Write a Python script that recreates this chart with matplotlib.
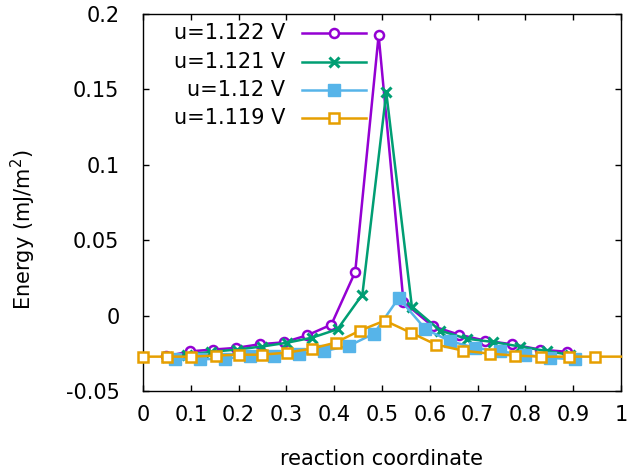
import matplotlib
matplotlib.use("Agg")
import matplotlib.pyplot as plt
from matplotlib.ticker import FuncFormatter

plt.rcParams['font.family'] = ['DejaVu Sans']

# u = 1.122 V
x_1122 = [0.049, 0.098, 0.147, 0.195, 0.244, 0.295, 0.344, 0.394, 0.444, 0.493,
          0.545, 0.606, 0.661, 0.716, 0.772, 0.830, 0.887]
y_1122 = [-0.027, -0.0237, -0.0225, -0.0214, -0.019, -0.0177, -0.013, -0.006, 0.029, 0.186,
          0.009, -0.007, -0.0126, -0.0166, -0.019, -0.0225, -0.024]

# u = 1.121 V
x_1121 = [0.050, 0.092, 0.143, 0.196, 0.249, 0.301, 0.354, 0.407, 0.459, 0.509,
          0.5625, 0.622, 0.677, 0.733, 0.789, 0.845, 0.893]
y_1121 = [-0.0272, -0.026, -0.024, -0.0225, -0.0205, -0.018, -0.0146, -0.009, 0.014, 0.148,
          0.006, -0.010, -0.0153, -0.0175, -0.0205, -0.0235, -0.026]

# u = 1.12 V
x_1120 = [0.067, 0.119, 0.171, 0.223, 0.275, 0.327, 0.379, 0.431, 0.483, 0.535,
          0.591, 0.643, 0.695, 0.747, 0.800, 0.851, 0.903]
y_1120 = [-0.029, -0.029, -0.0285, -0.027, -0.0265, -0.0255, -0.0235, -0.020, -0.012, 0.0117,
          -0.009, -0.017, -0.0214, -0.0237, -0.026, -0.028, -0.029]

# u = 1.119 V
x_1119 = [0.0, 0.05, 0.1, 0.152, 0.2, 0.25, 0.302, 0.353, 0.403, 0.454,
          0.506, 0.560, 0.613, 0.669, 0.725, 0.779, 0.833, 0.892, 0.946, 1.0]
y_1119 = [-0.0272, -0.0272, -0.0272, -0.0265, -0.0259, -0.0259, -0.0245, -0.0219, -0.0179, -0.0099,
          -0.0033, -0.0113, -0.0192, -0.0232, -0.0252, -0.0265, -0.0272, -0.0272, -0.0272, -0.0272]

labels = ['u=1.122 V', 'u=1.121 V', 'u=1.12 V', 'u=1.119 V']
xticks = [0, 0.1, 0.2, 0.3, 0.4, 0.5, 0.6, 0.7, 0.8, 0.9, 1]
yticks = [-0.05, 0, 0.05, 0.1, 0.15, 0.2]

styles = [
    dict(color='#9400d3', marker='o', ms=6.5, mfc='white', mew=1.8),
    dict(color='#009e73', marker='x', ms=7.5, mew=2.2),
    dict(color='#56b4e9', marker='s', ms=8.5, mfc='#56b4e9', mew=1.0),
    dict(color='#e69f00', marker='s', ms=7.5, mfc='white', mew=1.8),
]
series = [(x_1122, y_1122), (x_1121, y_1121), (x_1120, y_1120), (x_1119, y_1119)]

fig = plt.figure(figsize=(6.28, 4.75), dpi=100)
ax = fig.add_axes([0.2277, 0.1768, 0.7611, 0.7937])

for i, ((xs, ys), st) in enumerate(zip(series, styles)):
    # last orange point sits on the border and has no marker
    every = slice(0, len(xs) - 1) if i == 3 else None
    ax.plot(xs, ys, lw=1.8, markevery=every, clip_on=False, zorder=2 + i, **st)

# gnuplot-style key: right-aligned text, sample to the right
key_y = [0.9496, 0.8727, 0.7984, 0.7241]
for lab, st, ky in zip(labels, styles, key_y):
    ax.text(0.297, ky, lab, transform=ax.transAxes, ha='right', va='center', fontsize=15)
    ax.plot([0.332, 0.4, 0.467], [ky, ky, ky], transform=ax.transAxes,
            lw=1.8, markevery=[1], clip_on=False, zorder=10, **st)

ax.set_xlim(0, 1)
ax.set_ylim(-0.05, 0.2)
ax.set_xticks(xticks)
ax.set_yticks(yticks)
ax.xaxis.set_major_formatter(FuncFormatter(lambda v, p: '%g' % v))
ax.yaxis.set_major_formatter(FuncFormatter(lambda v, p: '%g' % round(v, 3)))
ax.tick_params(direction='in', top=True, right=True, length=4, width=1,
               labelsize=15)
ax.tick_params(axis='y', pad=17)
ax.tick_params(axis='x', pad=10)
for sp in ax.spines.values():
    sp.set_linewidth(1)

ax.set_xlabel('reaction coordinate', fontsize=15)
ax.set_ylabel('Energy (mJ/m$^2$)', fontsize=15)
ax.xaxis.set_label_coords(0.5, -0.155)
ax.yaxis.set_label_coords(-0.219, 0.427)

fig.savefig('out.png', dpi=100)
